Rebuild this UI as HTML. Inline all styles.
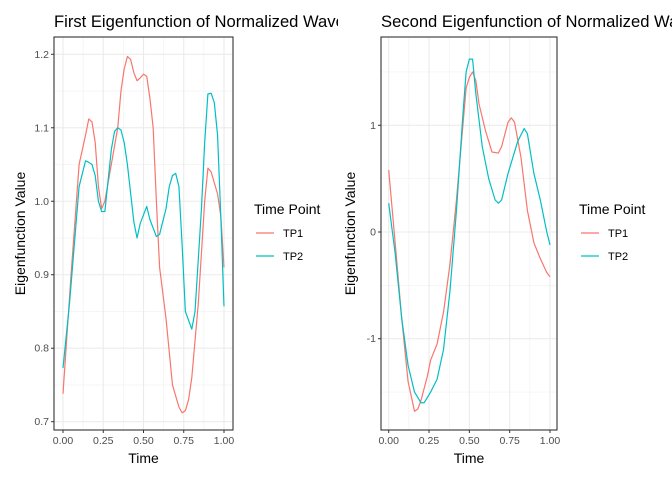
<!DOCTYPE html>
<html><head><meta charset="utf-8"><style>
body{margin:0;background:#fff}
svg{display:block;font-family:"Liberation Sans",sans-serif}
</style></head><body>
<svg id="c" width="672" height="480">
<defs>
<clipPath id="clipL"><rect x="0" y="0" width="338" height="480"/></clipPath>
<clipPath id="clipP1"><rect x="54" y="37" width="179" height="393"/></clipPath>
<clipPath id="clipP2"><rect x="381" y="37" width="176" height="393"/></clipPath>
</defs>
</svg>
<script>
const xTicks=[0,0.25,0.5,0.75,1];
const xTickLabels=["0.00","0.25","0.50","0.75","1.00"];
const leftYTicks=[0.7,0.8,0.9,1.0,1.1,1.2];
const leftYTickLabels=["0.7","0.8","0.9","1.0","1.1","1.2"];
const rightYTicks=[-1,0,1];
const rightYTickLabels=["-1","0","1"];
const seriesNames=["TP1","TP2"];
const leftTP1x=[0,0.05,0.1,0.14,0.16,0.18,0.2,0.22,0.24,0.26,0.3,0.34,0.36,0.38,0.4,0.42,0.44,0.46,0.48,0.5,0.52,0.54,0.56,0.58,0.6,0.64,0.68,0.72,0.74,0.76,0.78,0.8,0.84,0.88,0.9,0.92,0.96,0.98,1.0];
const leftTP1y=[0.738,0.9,1.05,1.09,1.112,1.108,1.08,1.02,0.99,1.0,1.05,1.1,1.15,1.18,1.197,1.193,1.175,1.164,1.168,1.173,1.17,1.14,1.1,1.0,0.91,0.84,0.75,0.72,0.712,0.715,0.73,0.76,0.86,1.0,1.045,1.04,1.01,0.98,0.91];
const leftTP2x=[0,0.04,0.1,0.14,0.16,0.18,0.2,0.22,0.24,0.26,0.3,0.32,0.34,0.36,0.38,0.4,0.44,0.46,0.48,0.52,0.54,0.58,0.6,0.64,0.66,0.68,0.7,0.72,0.74,0.76,0.8,0.82,0.86,0.88,0.9,0.92,0.94,0.96,0.98,1.0];
const leftTP2y=[0.773,0.86,1.02,1.055,1.053,1.05,1.035,1.0,0.986,0.986,1.07,1.095,1.1,1.097,1.08,1.05,0.972,0.95,0.97,0.993,0.975,0.952,0.955,0.99,1.02,1.035,1.038,1.02,0.94,0.85,0.826,0.85,0.99,1.08,1.146,1.147,1.134,1.09,0.98,0.857];
const rightTP1x=[0,0.04,0.08,0.12,0.16,0.18,0.2,0.24,0.26,0.3,0.34,0.38,0.42,0.46,0.48,0.5,0.52,0.54,0.56,0.6,0.64,0.68,0.7,0.74,0.76,0.78,0.82,0.86,0.9,0.94,0.98,1.0];
const rightTP1y=[0.58,-0.1,-0.8,-1.4,-1.68,-1.66,-1.58,-1.35,-1.2,-1.05,-0.75,-0.3,0.3,1.0,1.35,1.45,1.5,1.42,1.2,0.95,0.75,0.74,0.8,1.03,1.07,1.03,0.7,0.2,-0.1,-0.25,-0.38,-0.42];
const rightTP2x=[0,0.04,0.08,0.12,0.16,0.2,0.22,0.26,0.3,0.34,0.38,0.42,0.46,0.48,0.5,0.52,0.54,0.58,0.62,0.66,0.68,0.7,0.74,0.78,0.8,0.84,0.86,0.9,0.94,0.98,1.0];
const rightTP2y=[0.27,-0.2,-0.8,-1.25,-1.5,-1.6,-1.6,-1.5,-1.38,-1.1,-0.55,0.2,1.1,1.5,1.62,1.62,1.3,0.8,0.5,0.3,0.27,0.3,0.55,0.75,0.85,0.97,0.92,0.55,0.3,0.0,-0.12];

const NS="http://www.w3.org/2000/svg";
const svg=document.getElementById('c');
const colors=["#F8766D","#00BFC4"];
function mk(tag,attrs,parent,text){const e=document.createElementNS(NS,tag);for(const k in attrs)e.setAttribute(k,attrs[k]);if(text!==undefined)e.textContent=text;(parent||svg).appendChild(e);return e;}

function panel(cfg){
  const g=mk('g',cfg.clip?{'clip-path':'url(#clipL)'}:{});
  
  
  const X=v=>cfg.x0+(cfg.x1-cfg.x0)*v;
  const Y=v=>cfg.yA+(v-cfg.vA)*(cfg.yB-cfg.yA)/(cfg.vB-cfg.vA);
  cfg.minorY.forEach(v=>mk('line',{x1:cfg.L,x2:cfg.R,y1:Y(v),y2:Y(v),stroke:'#f0f0f0','stroke-width':0.6},g));
  [0.125,0.375,0.625,0.875].forEach(v=>mk('line',{x1:X(v),x2:X(v),y1:cfg.T,y2:cfg.B,stroke:'#f0f0f0','stroke-width':0.6},g));
  cfg.yTicks.forEach(v=>mk('line',{x1:cfg.L,x2:cfg.R,y1:Y(v),y2:Y(v),stroke:'#ebebeb','stroke-width':1.1},g));
  xTicks.forEach(v=>mk('line',{x1:X(v),x2:X(v),y1:cfg.T,y2:cfg.B,stroke:'#ebebeb','stroke-width':1.1},g));
  const sg=mk('g',{'clip-path':cfg.pclip},g);
  cfg.series.forEach((s,i)=>{
    const p=mk('polyline',{points:s[0].map((x,j)=>X(x)+','+Y(s[1][j])).join(' '),fill:'none',stroke:colors[i],'stroke-width':1.2,'stroke-linejoin':'round'},sg);
    
    
  });
  mk('rect',{x:cfg.L,y:cfg.T,width:cfg.R-cfg.L,height:cfg.B-cfg.T,fill:'none',stroke:'#333','stroke-width':1.1},g);
  xTicks.forEach((v,i)=>{
    mk('line',{x1:X(v),x2:X(v),y1:cfg.B,y2:cfg.B+3,stroke:'#333'},g);
    const t=mk('text',{x:X(v),y:cfg.B+14,'text-anchor':'middle','font-size':'10.5',fill:'#4d4d4d'},g,xTickLabels[i]);
    
    
  });
  cfg.yTicks.forEach((v,i)=>{
    mk('line',{x1:cfg.L-3,x2:cfg.L,y1:Y(v),y2:Y(v),stroke:'#333'},g);
    const t=mk('text',{x:cfg.L-5,y:Y(v)+3.5,'text-anchor':'end','font-size':'10.5',fill:'#4d4d4d'},g,cfg.yLabels[i]);
    
    
  });
  const xt=mk('text',{x:(cfg.L+cfg.R)/2,y:463,'text-anchor':'middle','font-size':'14',fill:'#000'},g,'Time');
  
  
  const yt=mk('text',{x:0,y:0,transform:`translate(${cfg.ytX},${(cfg.T+cfg.B)/2}) rotate(-90)`,'text-anchor':'middle','font-size':'14',fill:'#000'},g,'Eigenfunction Value');
  
  
  const tt=mk('text',{x:cfg.L,y:27,'font-size':'16.6',fill:'#000'},g,cfg.title);
  
  
  const lg=mk('g',{},svg);
  
  
  mk('text',{x:cfg.lx,y:214,'font-size':'14',fill:'#000'},lg,'Time Point');
  seriesNames.forEach((n,i)=>{
    const e=mk('g',{},lg);
    
    
    mk('line',{x1:cfg.lx+2,x2:cfg.lx+20,y1:233+23*i,y2:233+23*i,stroke:colors[i],'stroke-width':1.2},e);
    mk('text',{x:cfg.lx+29,y:237+23*i,'font-size':'11',fill:'#000'},e,n);
  });
}
panel({name:'left-panel',clip:true,pclip:'url(#clipP1)',L:54,R:233,T:37,B:430,x0:63,x1:224,vA:1.2,yA:54.3,vB:0.7,yB:421.7,
  yTicks:leftYTicks,yLabels:leftYTickLabels,minorY:[0.75,0.85,0.95,1.05,1.15],ytX:25,lx:254,
  title:'First Eigenfunction of Normalized Wavelet Coefficients',series:[[leftTP1x,leftTP1y],[leftTP2x,leftTP2y]]});
panel({name:'right-panel',clip:false,pclip:'url(#clipP2)',L:381,R:557,T:37,B:430,x0:388.7,x1:550,vA:1,yA:125.3,vB:0,yB:232,
  yTicks:rightYTicks,yLabels:rightYTickLabels,minorY:[-1.5,-0.5,0.5,1.5],ytX:355,lx:579,
  title:'Second Eigenfunction of Normalized Wavelet Coefficients',series:[[rightTP1x,rightTP1y],[rightTP2x,rightTP2y]]});
</script>
</body></html>
